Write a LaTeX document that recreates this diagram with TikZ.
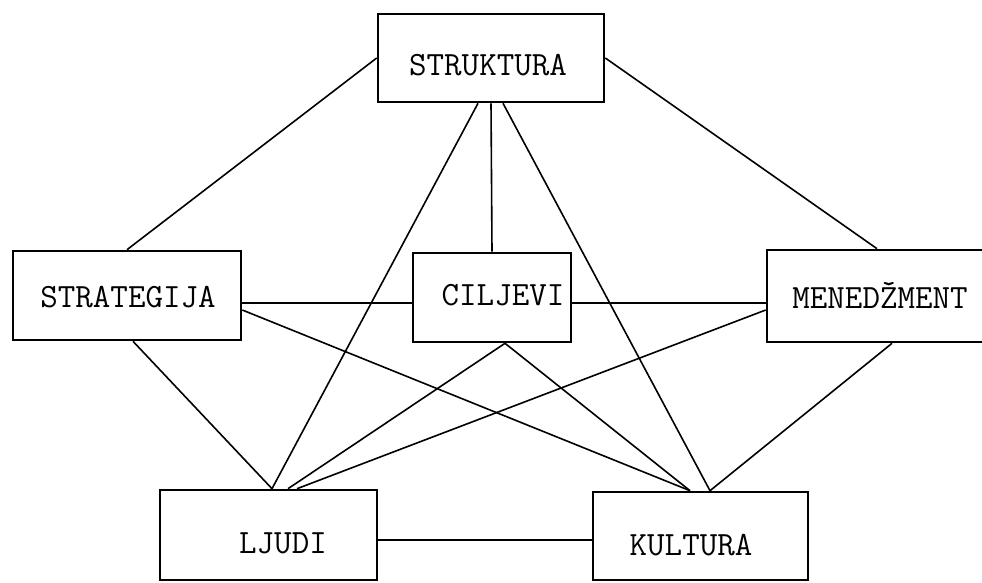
\documentclass[tikz,border=0pt]{standalone}
\usepackage{fontspec}
\begin{document}
\begin{tikzpicture}[x=1pt,y=-1pt,
  box/.style={draw=black, line width=2.6pt, rectangle, inner sep=0pt},
  lbl/.style={font=\ttfamily\fontsize{34}{34}\selectfont, inner sep=0pt, text=black},
  conn/.style={draw=black, line width=1.6pt}]
\useasboundingbox (0,0) rectangle (982,583);
\fill[white] (0,0) rectangle (982,583);
% boxes
\node[box, minimum width=226pt, minimum height=88pt,
  label={[lbl, xshift=-3pt, yshift=-7pt]center:STRUKTURA}] (s) at (491,58) {};
\node[box, minimum width=228pt, minimum height=89pt,
  label={[lbl, xshift=1pt, yshift=-1.5pt]center:STRATEGIJA}] (sg) at (127,295.5) {};
\node[box, minimum width=158pt, minimum height=89pt,
  label={[lbl, xshift=11pt, yshift=2.5pt]center:CILJEVI}] (c) at (492,297.5) {};
\node[box, minimum width=220pt, minimum height=92pt,
  label={[lbl, xshift=3pt, yshift=1pt]center:MENEDŽMENT}] (m) at (877,296) {};
\node[box, minimum width=217pt, minimum height=90pt,
  label={[lbl, xshift=14.5pt, yshift=-8pt]center:LJUDI}] (l) at (268.5,535) {};
\node[box, minimum width=215pt, minimum height=88pt,
  label={[lbl, xshift=-9.5pt, yshift=-9pt]center:KULTURA}] (k) at (700.5,536) {};
% connectors
\draw[conn] (s.west) -- (sg.north);
\draw[conn] (s.east) -- (m.north);
\draw[conn] (s.south) -- (c.north);
\draw[conn] ([xshift=-13pt]s.south) -- ([xshift=3.5pt]l.north);
\draw[conn] ([xshift=12pt]s.south) -- ([xshift=9.5pt]k.north);
\draw[conn] ([yshift=-7.5pt]sg.east) -- ([yshift=-7.5pt]sg.east -| c.west);
\draw[conn] ([yshift=-5.5pt]c.east) -- ([yshift=-5.5pt]c.east -| m.west);
\draw[conn] ([yshift=-14.5pt]sg.east) -- ([xshift=-10.5pt]k.north);
\draw[conn] ([xshift=6pt]sg.south) -- ([xshift=3.5pt]l.north);
\draw[conn] ([xshift=13pt]c.south) -- ([xshift=19.5pt]l.north);
\draw[conn] ([xshift=13pt]c.south) -- ([xshift=-10.5pt]k.north);
\draw[conn] ([yshift=-14pt]m.west) -- ([xshift=28.5pt]l.north);
\draw[conn] ([xshift=15pt]m.south) -- ([xshift=9.5pt]k.north);
\draw[conn] ([yshift=-5pt]l.east) -- ([yshift=-5pt]l.east -| k.west);
\end{tikzpicture}
\end{document}
